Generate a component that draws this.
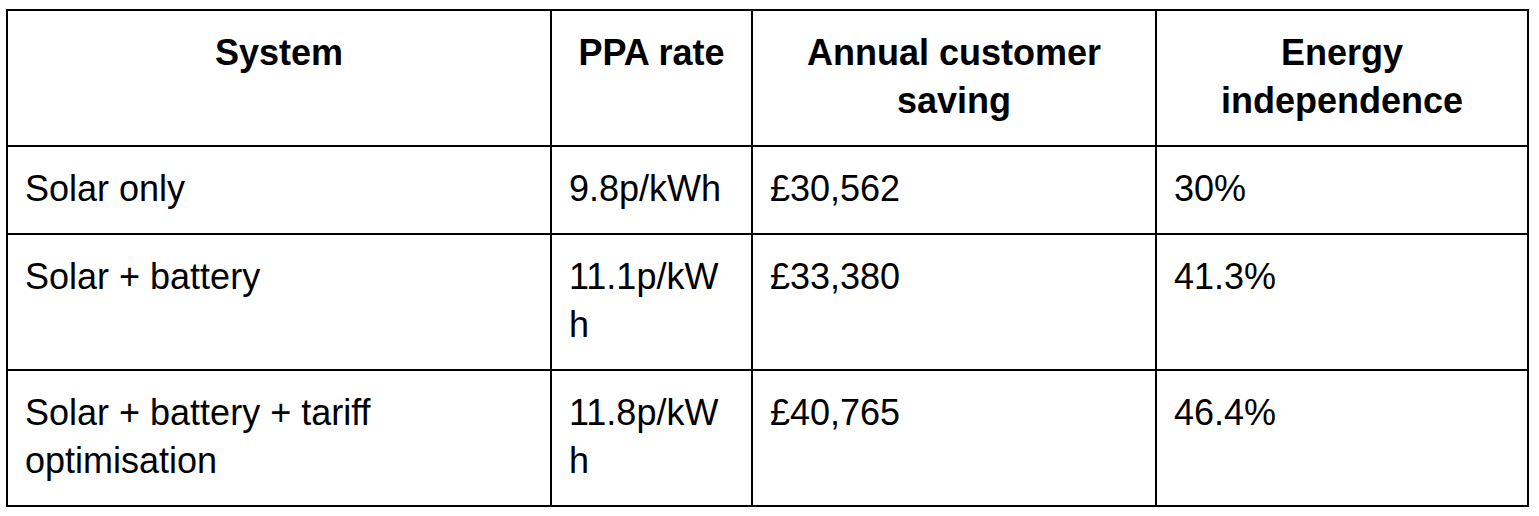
import React from "react";

// table content
const headers: string[] = ["System", "PPA rate", "Annual customer saving", "Energy independence"];
const systems: string[] = ["Solar only", "Solar + battery", "Solar + battery + tariff optimisation"];
const ppaRates: string[] = ["9.8p/kWh", "11.1p/kWh", "11.8p/kWh"];
const annualSavings: string[] = ["£30,562", "£33,380", "£40,765"];
const independence: string[] = ["30%", "41.3%", "46.4%"];

const colWidths = [544, 201, 404, 372];
const border = "2px solid #000";

const cellBase: React.CSSProperties = {
  borderRight: border,
  borderBottom: border,
  padding: "18px 17px 20px 17px",
  verticalAlign: "top",
  lineHeight: "48px",
  fontSize: 36,
  color: "#000",
  overflowWrap: "anywhere",
  wordBreak: "break-word",
  boxSizing: "border-box",
};

export default function App() {
  const rows = systems.map((s, i) => [s, ppaRates[i], annualSavings[i], independence[i]]);

  return (
    <div style={{ position: "absolute", left: 6, top: 9 }}>
      <table
        style={{
          borderCollapse: "separate",
          borderSpacing: 0,
          borderLeft: border,
          borderTop: border,
          tableLayout: "fixed",
          width: colWidths.reduce((a, b) => a + b, 0) + 2,
          fontFamily: "'Liberation Sans', Arial, sans-serif",
        }}
      >
        <colgroup>
          {colWidths.map((w, i) => (
            <col key={i} style={{ width: w }} />
          ))}
        </colgroup>
        <thead>
          <tr>
            {headers.map((h) => (
              <th key={h} style={{ ...cellBase, fontWeight: 700, textAlign: "center" }}>
                {h}
              </th>
            ))}
          </tr>
        </thead>
        <tbody>
          {rows.map((r, i) => (
            <tr key={i}>
              {r.map((c, j) => (
                <td key={j} style={{ ...cellBase, textAlign: "left" }}>
                  {c}
                </td>
              ))}
            </tr>
          ))}
        </tbody>
      </table>
    </div>
  );
}
